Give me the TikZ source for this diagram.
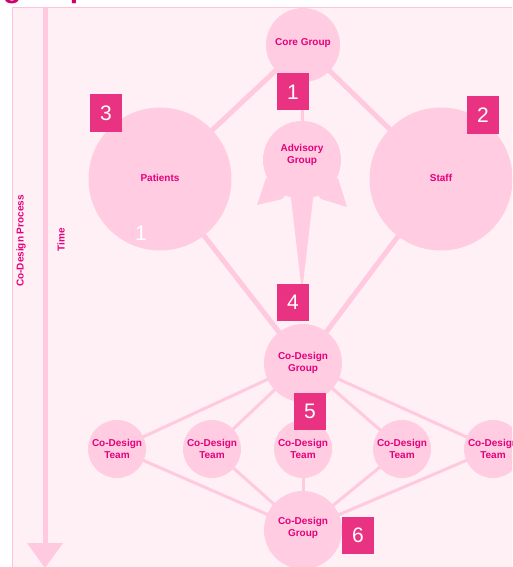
\documentclass[tikz,border=0pt]{standalone}
\usepackage{fontspec}
\setmainfont{Liberation Sans}
\definecolor{panelbg}{HTML}{FFF0F5}
\definecolor{circfill}{HTML}{FFCCE1}
\definecolor{linepink}{HTML}{FFCADF}
\definecolor{txtmag}{HTML}{E4007C}
\definecolor{boxmag}{HTML}{EA3282}
\definecolor{bordpink}{HTML}{FFC2DA}
\definecolor{titlemag}{HTML}{D0006E}
\begin{document}
\begin{tikzpicture}[x=1pt,y=-1pt,
  circ/.style={circle, fill=circfill, draw=none, inner sep=0pt, minimum size=#1},
  lbl/.style={align=center, text=txtmag, inner sep=0pt, font=\bfseries\fontsize{10}{12.5}\selectfont},
  numbox/.style={fill=boxmag, text=white, minimum width=32pt, minimum height=37pt, inner sep=0pt, font=\fontsize{21}{21}\selectfont},
  thick link/.style={draw=linepink, line width=5pt},
  thin link/.style={draw=linepink, line width=3pt}]
\useasboundingbox (0,0) rectangle (512,567);
\clip (0,0) rectangle (512,567);
% title fragment
\node[anchor=base west, inner sep=0pt, text=titlemag, font=\bfseries\fontsize{30}{30}\selectfont] (title) at (3,-2) {group};
% panel
\fill[panelbg] (12,7) rectangle (520,575);
\draw[bordpink, line width=1pt] (12.5,575) -- (12.5,7.5) -- (520,7.5);
% time arrow
\coordinate (atop) at (45,8);
\coordinate (abot) at (45,545);
\draw[linepink, line width=5pt] (atop) -- (abot);
\fill[linepink] (27,543) -- (63,543) -- (45,568) -- cycle;
\node[lbl, rotate=90] (proc) at (21,241) {Co-Design Process};
\node[lbl, rotate=90] (time) at (61,240) {Time};
% node positions
\coordinate (pcore) at (303,45);
\coordinate (padv) at (302,160);
\coordinate (ppat) at (160,179);
\coordinate (pstaff) at (441,179);
\coordinate (pcdg) at (303,363);
\coordinate (pcdg2) at (303,530);
% connectors (drawn first)
\draw[thick link] (pcore) -- (ppat);
\draw[thick link] (pcore) -- (pstaff);
\draw[thin link] (pcore) -- (padv);
\draw[thick link] (ppat) -- (pcdg);
\draw[thick link] (pstaff) -- (pcdg);
\foreach \x/\n in {117/t1,212/t2,303/t3,402/t4,493/t5}{
  \coordinate (p\n) at (\x,449);
  \draw[thin link] (pcdg) -- (p\n);
  \draw[thin link] (p\n) -- (pcdg2);
}
% advisory ribbon
\fill[circfill] (266,178) -- (257,205) -- (282,199) -- (292,188) -- cycle;
\fill[circfill] (338,178) -- (347,207) -- (321,199) -- (312,188) -- cycle;
\fill[circfill] (290,190) -- (314,190) -- (302,292) -- cycle;
% circles
\node[circ=74pt] (core) at (pcore) {};
\node[lbl] (coret) at (303,43) {Core Group};
\node[circ=78pt] (adv) at (padv) {};
\node[lbl] (advt) at (302,155) {Advisory\\Group};
\node[circ=143pt] (pat) at (ppat) {};
\node[lbl] (patt) at (160,178) {Patients};
\node[circ=143pt] (staff) at (pstaff) {};
\node[lbl] (stafft) at (441,178) {Staff};
\node[circ=78pt] (cdg) at (pcdg) {};
\node[lbl] (cdgt) at (303,363) {Co-Design\\Group};
\foreach \n in {t1,t2,t3,t4,t5}{
  \node[circ=58pt] (\n) at (p\n) {};
  \node[lbl] (\n l) at (p\n) {Co-Design\\Team};
}
\node[circ=78pt] (cdg2) at (pcdg2) {};
\node[lbl] (cdg2t) at (303,528) {Co-Design\\Group};
% number boxes
\node[numbox] (b1) at (293,92) {1};
\node[numbox] (b2) at (483,115) {2};
\node[numbox] (b3) at (106,113) {3};
\node[numbox] (b4) at (293,302) {4};
\node[numbox] (b5) at (310,411) {5};
\node[numbox] (b6) at (358,535) {6};
\node[text=white, inner sep=0pt, font=\fontsize{21}{21}\selectfont] (one) at (141,233) {1};
\end{tikzpicture}
\end{document}
